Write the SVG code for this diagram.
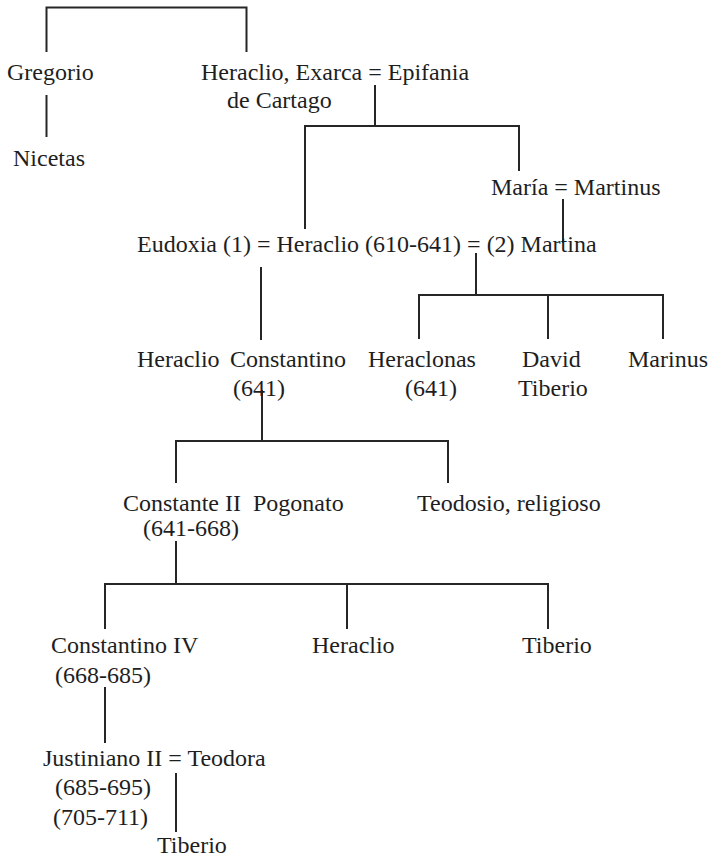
<svg xmlns="http://www.w3.org/2000/svg" width="710" height="858" viewBox="0 0 710 858">
  <style>
    .name { font-family: 'Liberation Serif', 'DejaVu Serif', serif; font-size: 24px; fill: #1e1e1e; }
    .link { fill: none; stroke: #262626; stroke-width: 2; stroke-linecap: butt; stroke-linejoin: miter; }
  </style>
  <rect width="710" height="858" fill="#ffffff"/>

  <!-- family lines -->
  <g id="connectors">
    <path class="link" d="M46.5,52 V7.5 H246.5 V52"/>
    <path class="link" d="M46.5,95 V137"/>
    <path class="link" d="M375,85 V126"/>
    <path class="link" d="M305,229 V126 H519 V171"/>
    <path class="link" d="M563,199 V243"/>
    <path class="link" d="M476,253 V295"/>
    <path class="link" d="M419,339 V295 H663 V339"/>
    <path class="link" d="M548,295 V339"/>
    <path class="link" d="M261,267 V340"/>
    <path class="link" d="M262,390 V441"/>
    <path class="link" d="M176,483 V441 H448 V483"/>
    <path class="link" d="M176,541 V584"/>
    <path class="link" d="M105,629 V584 H548 V629"/>
    <path class="link" d="M347,584 V629"/>
    <path class="link" d="M105,687 V743"/>
    <path class="link" d="M176,773 V832"/>
  </g>

  <g class="name">
    <g id="gregorio"><text x="7" y="80">Gregorio</text></g>
    <g id="nicetas"><text x="13" y="166">Nicetas</text></g>
    <g id="heraclio-exarca">
      <text x="201" y="80">Heraclio, Exarca = Epifania</text>
      <text x="227" y="108">de Cartago</text>
    </g>
    <g id="maria-martinus"><text x="491" y="195">María = Martinus</text></g>
    <g id="heraclio-emperador"><text x="137" y="252">Eudoxia (1) = Heraclio (610-641) = (2) Martina</text></g>
    <g id="heraclio-constantino">
      <text x="137" y="367">Heraclio</text>
      <text x="230" y="367">Constantino</text>
      <text x="233" y="396">(641)</text>
    </g>
    <g id="heraclonas">
      <text x="368" y="367">Heraclonas</text>
      <text x="405" y="396">(641)</text>
    </g>
    <g id="david-tiberio">
      <text x="522" y="367">David</text>
      <text x="518" y="396">Tiberio</text>
    </g>
    <g id="marinus"><text x="628" y="367">Marinus</text></g>
    <g id="constante-ii">
      <text x="123" y="511">Constante II</text>
      <text x="253" y="511">Pogonato</text>
      <text x="143" y="536">(641-668)</text>
    </g>
    <g id="teodosio"><text x="417" y="511">Teodosio, religioso</text></g>
    <g id="constantino-iv">
      <text x="51" y="653">Constantino IV</text>
      <text x="55" y="683">(668-685)</text>
    </g>
    <g id="heraclio-hijo"><text x="312" y="653">Heraclio</text></g>
    <g id="tiberio-hijo"><text x="522" y="653">Tiberio</text></g>
    <g id="justiniano-ii">
      <text x="43" y="766">Justiniano II = Teodora</text>
      <text x="55" y="795">(685-695)</text>
      <text x="53" y="825">(705-711)</text>
    </g>
    <g id="tiberio-nieto"><text x="157" y="853">Tiberio</text></g>
  </g>
</svg>
